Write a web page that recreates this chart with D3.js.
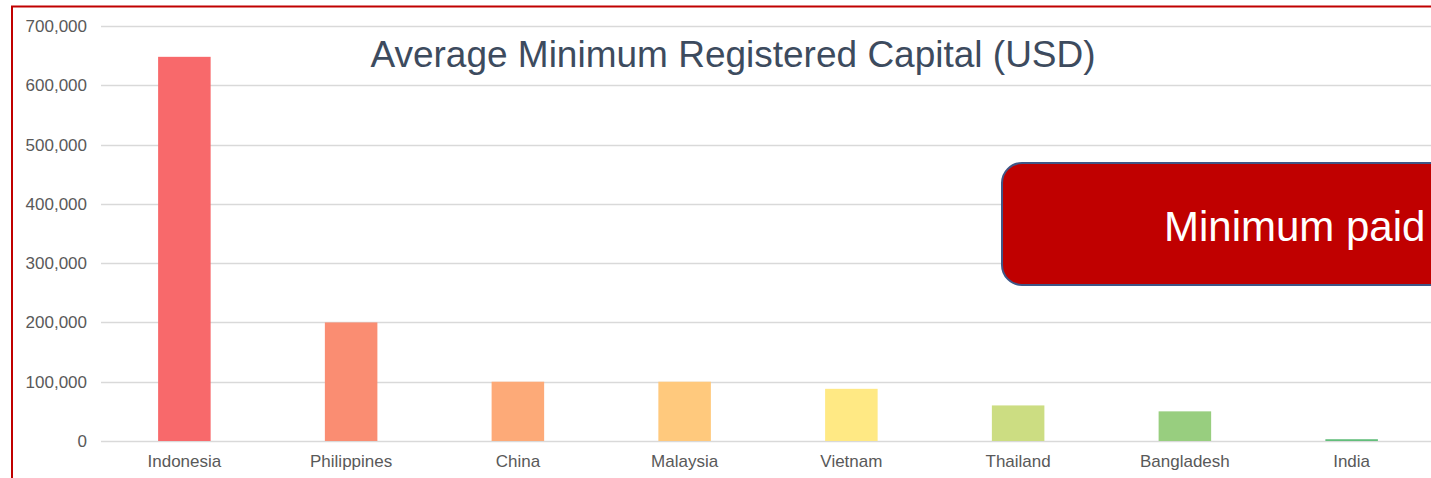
<!DOCTYPE html>
<html>
<head>
<meta charset="utf-8">
<script src="https://cdn.jsdelivr.net/npm/d3@7"></script>
<style>
  body { margin: 0; background: #fff; }
  svg { display: block; font-family: "Liberation Sans", Arial, sans-serif; }
</style>
</head>
<body>
<div id="chart"></div>
<script>
var countries = ["Indonesia", "Philippines", "China", "Malaysia", "Vietnam", "Thailand", "Bangladesh", "India"]
var capital = [648000, 200000, 100000, 100000, 88000, 60000, 50000, 3000]
var barColors = ["#F8696B", "#FA8D72", "#FDAA78", "#FFC97D", "#FFE984", "#CCDD82", "#98CE7F", "#63BE7B"]
var yTicks = [0, 100000, 200000, 300000, 400000, 500000, 600000, 700000]

var width = 1431
var height = 478
var margin = { left: 101, right: -4, top: 26, bottom: 37 }

var svg = d3.select("#chart")
  .append("svg")
  .attr("width", width)
  .attr("height", height)

var x = d3.scaleBand()
  .domain(countries)
  .range([margin.left, width - margin.right])
  .paddingInner(0.685)
  .paddingOuter(0.3425)

var y = d3.scaleLinear()
  .domain([0, 700000])
  .range([height - margin.bottom, margin.top])

// gridlines
svg.append("g")
  .selectAll("line")
  .data(yTicks)
  .enter()
  .append("line")
  .attr("x1", margin.left)
  .attr("x2", width)
  .attr("y1", function(d) { return Math.round(y(d)) + 0.5 })
  .attr("y2", function(d) { return Math.round(y(d)) + 0.5 })
  .attr("stroke", "#D9D9D9")
  .attr("stroke-width", 1.3)

// y axis labels
var yAxis = d3.axisLeft(y)
  .tickValues(yTicks)
  .tickFormat(d3.format(","))
  .tickSize(0)
  .tickPadding(14)

svg.append("g")
  .attr("transform", "translate(" + margin.left + ",0)")
  .call(yAxis)
  .call(function(g) { g.select(".domain").remove() })
  .selectAll("text")
  .attr("font-family", "Liberation Sans, Arial, sans-serif")
  .attr("font-size", 17)
  .attr("fill", "#595959")

// bars
svg.append("g")
  .selectAll("rect")
  .data(countries)
  .enter()
  .append("rect")
  .attr("x", function(d) { return x(d) })
  .attr("width", x.bandwidth())
  .attr("y", function(d, i) { return y(capital[i]) })
  .attr("height", function(d, i) { return y(0) - y(capital[i]) })
  .attr("fill", function(d, i) { return barColors[i] })

// x axis labels
var xAxis = d3.axisBottom(x)
  .tickSize(0)
  .tickPadding(14)

svg.append("g")
  .attr("transform", "translate(0," + y(0) + ")")
  .call(xAxis)
  .call(function(g) { g.select(".domain").remove() })
  .selectAll("text")
  .attr("font-family", "Liberation Sans, Arial, sans-serif")
  .attr("font-size", 17)
  .attr("fill", "#595959")

// title
svg.append("text")
  .attr("x", 733)
  .attr("y", 67)
  .attr("text-anchor", "middle")
  .attr("font-size", 37)
  .attr("fill", "#3D4B5E")
  .text("Average Minimum Registered Capital (USD)")

// callout box
svg.append("rect")
  .attr("x", 1002)
  .attr("y", 163)
  .attr("width", 480)
  .attr("height", 122)
  .attr("rx", 20)
  .attr("fill", "#C00000")
  .attr("stroke", "#3F5686")
  .attr("stroke-width", 2)

svg.append("text")
  .attr("x", 1164)
  .attr("y", 241)
  .attr("font-size", 42)
  .attr("fill", "#fff")
  .text("Minimum paid")

// outer red frame
svg.append("rect")
  .attr("x", 12)
  .attr("y", 6.5)
  .attr("width", 1440)
  .attr("height", 500)
  .attr("fill", "none")
  .attr("stroke", "#C00000")
  .attr("stroke-width", 2)
</script>
</body>
</html>
